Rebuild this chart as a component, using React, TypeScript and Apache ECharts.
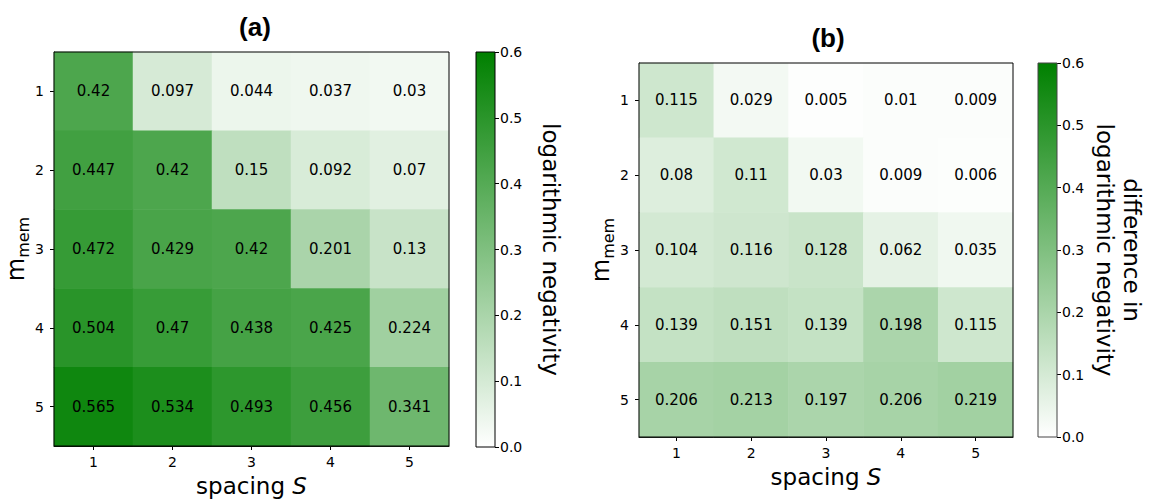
import React, { useEffect, useRef } from "react";
import * as echarts from "echarts";

const spacingLabels = ["1", "2", "3", "4", "5"];
const mmemLabels = ["1", "2", "3", "4", "5"];
const colorbarTicks = [0, 0.1, 0.2, 0.3, 0.4, 0.5, 0.6];

// rows: m_mem = 1..5, columns: spacing S = 1..5
const logNegA = [
  [0.42, 0.097, 0.044, 0.037, 0.03],
  [0.447, 0.42, 0.15, 0.092, 0.07],
  [0.472, 0.429, 0.42, 0.201, 0.13],
  [0.504, 0.47, 0.438, 0.425, 0.224],
  [0.565, 0.534, 0.493, 0.456, 0.341],
];

const diffLogNegB = [
  [0.115, 0.029, 0.005, 0.01, 0.009],
  [0.08, 0.11, 0.03, 0.009, 0.006],
  [0.104, 0.116, 0.128, 0.062, 0.035],
  [0.139, 0.151, 0.139, 0.198, 0.115],
  [0.206, 0.213, 0.197, 0.206, 0.219],
];

const FONT = "DejaVu Sans";
const TITLE_FONT = "Liberation Sans";

function toCells(rows: number[][]) {
  const out: [number, number, number][] = [];
  rows.forEach((row, yi) => row.forEach((v, xi) => out.push([xi, yi, v])));
  return out;
}

export default function App() {
  const ref = useRef<HTMLDivElement>(null);
  useEffect(() => {
    if (!ref.current) return;
    const chart = echarts.init(ref.current, undefined, { renderer: "svg" });
    const cbMin = colorbarTicks[0];
    const cbMax = colorbarTicks[colorbarTicks.length - 1];

    const heatX = (gridIndex: number) => ({
      type: "category",
      gridIndex,
      data: spacingLabels,
      position: "bottom",
      name: "spacing {i|S}",
      nameLocation: "middle",
      nameGap: 28,
      nameTextStyle: {
        fontFamily: FONT,
        fontSize: 23,
        color: "#000",
        rich: { i: { fontFamily: FONT, fontSize: 23, fontStyle: "italic", color: "#000" } },
      },
      axisLine: { show: true, lineStyle: { color: "#000", width: 1 } },
      axisTick: { show: true, alignWithLabel: true, length: 4, lineStyle: { color: "#000" } },
      axisLabel: { fontFamily: FONT, fontSize: 14, color: "#000", margin: 9 },
      splitLine: { show: false },
      splitArea: { show: false },
    });
    const heatY = (gridIndex: number) => ({
      type: "category",
      gridIndex,
      data: mmemLabels,
      inverse: true,
      name: "{m|m}{s|mem}",
      nameLocation: "middle",
      nameRotate: 90,
      nameGap: 22,
      nameTextStyle: {
        rich: {
          m: { fontFamily: FONT, fontSize: 24, color: "#000" },
          s: { fontFamily: FONT, fontSize: 16, color: "#000", verticalAlign: "bottom", padding: [14, 0, 0, 0] },
        },
      },
      axisLine: { show: true, lineStyle: { color: "#000", width: 1 } },
      axisTick: { show: true, alignWithLabel: true, length: 4, lineStyle: { color: "#000" } },
      axisLabel: { fontFamily: FONT, fontSize: 14, color: "#000", margin: 10 },
      splitLine: { show: false },
      splitArea: { show: false },
    });
    const cbX = (gridIndex: number) => ({
      type: "category",
      gridIndex,
      data: ["cb"],
      show: false,
    });
    const cbY = (gridIndex: number, name: string, gap: number) => ({
      type: "value",
      gridIndex,
      min: cbMin,
      max: cbMax,
      interval: 0.1,
      position: "right",
      name,
      nameLocation: "middle",
      nameRotate: -90,
      nameGap: gap,
      nameTextStyle: { fontFamily: FONT, fontSize: 23, color: "#000", lineHeight: 27 },
      axisLine: { show: false },
      axisTick: { show: true, length: 4, lineStyle: { color: "#000" } },
      axisLabel: {
        fontFamily: FONT,
        fontSize: 14,
        color: "#000",
        margin: 5,
        formatter: (v: number) => v.toFixed(1),
      },
      splitLine: { show: false },
    });

    const gradient = {
      type: "linear",
      x: 0,
      y: 0,
      x2: 0,
      y2: 1,
      colorStops: [
        { offset: 0, color: "#008000" },
        { offset: 1, color: "#ffffff" },
      ],
    };

    const heatLabel = {
      show: true,
      fontFamily: FONT,
      fontSize: 15,
      color: "#000",
      formatter: (p: any) => String(p.value[2]),
    };

    const gridBase = { show: true, borderColor: "#000", borderWidth: 1, backgroundColor: "transparent", z: 10 };

    chart.setOption({
      animation: false,
      textStyle: { fontFamily: FONT },
      grid: [
        { ...gridBase, left: 54, top: 52, width: 395, height: 395 },
        { ...gridBase, left: 476, top: 52, width: 19, height: 395 },
        { ...gridBase, left: 639, top: 63, width: 374, height: 374 },
        { ...gridBase, borderColor: "#444", left: 1038, top: 63, width: 19, height: 374 },
      ],
      xAxis: [heatX(0), cbX(1), heatX(2), cbX(3)],
      yAxis: [
        heatY(0),
        cbY(1, "logarithmic negativity", 42),
        heatY(2),
        cbY(3, "difference in\nlogarithmic negativity", 34),
      ],
      visualMap: [
        { type: "continuous", show: false, seriesIndex: 0, min: cbMin, max: cbMax, inRange: { color: ["#ffffff", "#008000"] } },
        { type: "continuous", show: false, seriesIndex: 2, min: cbMin, max: cbMax, inRange: { color: ["#ffffff", "#008000"] } },
      ],
      graphic: [
        {
          type: "text",
          x: 255,
          y: 27,
          style: { text: "(a)", fontFamily: TITLE_FONT, fontSize: 26, fontWeight: "bold", fill: "#000", align: "center", verticalAlign: "middle" },
        },
        {
          type: "text",
          x: 828,
          y: 38,
          style: { text: "(b)", fontFamily: TITLE_FONT, fontSize: 26, fontWeight: "bold", fill: "#000", align: "center", verticalAlign: "middle" },
        },
      ],
      series: [
        { type: "heatmap", xAxisIndex: 0, yAxisIndex: 0, data: toCells(logNegA), label: heatLabel, itemStyle: { borderWidth: 0 } },
        {
          type: "bar",
          xAxisIndex: 1,
          yAxisIndex: 1,
          data: [cbMax],
          barWidth: "100%",
          itemStyle: { color: gradient },
          silent: true,
        },
        { type: "heatmap", xAxisIndex: 2, yAxisIndex: 2, data: toCells(diffLogNegB), label: heatLabel, itemStyle: { borderWidth: 0 } },
        {
          type: "bar",
          xAxisIndex: 3,
          yAxisIndex: 3,
          data: [cbMax],
          barWidth: "100%",
          itemStyle: { color: gradient },
          silent: true,
        },
      ],
    });
    return () => chart.dispose();
  }, []);
  return (
    <div
      ref={ref}
      style={{ position: "fixed", left: 0, top: 0, width: 1160, height: 502, background: "#fff" }}
    />
  );
}
